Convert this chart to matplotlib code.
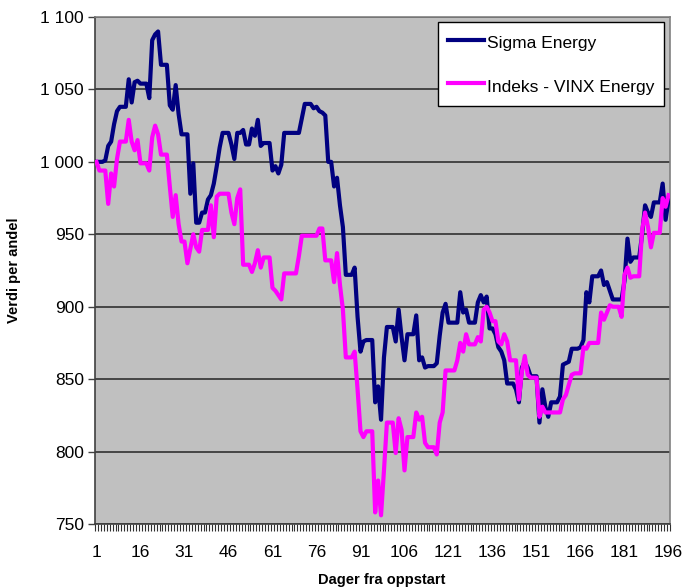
import numpy as np
import matplotlib
matplotlib.use("Agg")
import matplotlib.pyplot as plt
import matplotlib.ticker as mticker

# ── Data (value per share, day 1..196) ───────────────────────────────────────
sigma = [
    1000, 1000, 1000, 1001, 1011, 1014, 1026, 1035, 1038, 1038,
    1038, 1057, 1041, 1055, 1056, 1054, 1054, 1054, 1044, 1084,
    1088, 1090, 1067, 1067, 1067, 1039, 1036, 1053, 1033, 1019,
    1019, 1019, 978, 999, 958, 958, 965, 965, 974, 977,
    985, 997, 1010, 1020, 1020, 1020, 1012, 1002, 1020, 1020,
    1022, 1012, 1012, 1023, 1018, 1029, 1011, 1013, 1013, 1013,
    994, 997, 992, 998, 1020, 1020, 1020, 1020, 1020, 1020,
    1030, 1040, 1040, 1040, 1037, 1038, 1035, 1034, 1032, 1000,
    1000, 983, 989, 970, 955, 922, 922, 922, 927, 893,
    869, 876, 877, 877, 877, 834, 845, 822, 865, 886,
    886, 886, 876, 898, 879, 863, 881, 881, 881, 894,
    863, 865, 858, 859, 859, 859, 861, 880, 896, 902,
    889, 889, 889, 889, 910, 896, 898, 889, 889, 889,
    903, 908, 903, 907, 885, 885, 881, 872, 869, 863,
    847, 847, 847, 843, 834, 858, 862, 858, 852, 852,
    852, 820, 843, 831, 824, 834, 834, 834, 838, 860,
    861, 862, 871, 871, 871, 872, 877, 910, 903, 921,
    921, 921, 925, 915, 917, 911, 905, 905, 905, 905,
    918, 947, 931, 934, 934, 934, 950, 970, 965, 962,
    972, 972, 972, 985, 960, 974,
]
vinx = [
    1000, 994, 994, 994, 971, 992, 983, 1002, 1014, 1014,
    1014, 1029, 1014, 1008, 1015, 999, 999, 999, 994, 1017,
    1025, 1019, 1005, 1005, 1005, 983, 962, 977, 957, 945,
    945, 930, 940, 950, 941, 938, 953, 953, 953, 970,
    948, 976, 978, 978, 978, 978, 965, 957, 975, 981,
    929, 929, 929, 924, 930, 939, 927, 934, 934, 934,
    913, 911, 908, 905, 923, 923, 923, 923, 923, 935,
    949, 949, 949, 949, 949, 949, 954, 954, 932, 932,
    932, 917, 937, 915, 898, 865, 865, 865, 869, 843,
    814, 810, 814, 814, 814, 758, 780, 756, 787, 820,
    820, 820, 799, 823, 815, 787, 810, 810, 810, 827,
    822, 824, 806, 803, 803, 803, 798, 820, 827, 856,
    856, 856, 856, 863, 875, 869, 881, 874, 874, 874,
    879, 876, 898, 900, 896, 890, 890, 876, 874, 881,
    876, 863, 863, 863, 836, 855, 866, 853, 851, 851,
    851, 824, 831, 827, 827, 827, 827, 827, 827, 836,
    839, 846, 853, 854, 854, 854, 872, 871, 875, 875,
    875, 875, 896, 891, 896, 901, 900, 900, 900, 893,
    922, 927, 920, 921, 921, 921, 953, 965, 955, 941,
    951, 951, 951, 975, 969, 977,
]
days = np.arange(1, len(sigma) + 1)
x_labels = list(range(1, 197, 15))
y_ticks = list(range(750, 1101, 50))

plt.rcParams["font.family"] = ["Liberation Sans", "DejaVu Sans"]

W, H = 684, 587
fig = plt.figure(figsize=(W / 100, H / 100), dpi=100)
ax = fig.add_axes([95 / W, 1 - 524 / H, 575 / W, 507 / H])
ax.set_facecolor("#C0C0C0")

ax.plot(days, sigma, color="#000080", lw=3.0, label="Sigma Energy", zorder=3)
ax.plot(days, vinx, color="#FF00FF", lw=3.0, label="Indeks - VINX Energy", zorder=3)

ax.set_xlim(0.5, len(sigma) + 0.5)
ax.set_ylim(750, 1100)

# y axis
ax.set_yticks(y_ticks)
ax.yaxis.set_major_formatter(mticker.FuncFormatter(lambda v, _: f"{int(v):,}".replace(",", " ")))
ax.tick_params(axis="y", direction="out", length=5, width=1, color="#404040",
               labelsize=12.5, pad=3)
ax.yaxis.grid(True, color="#303030", lw=1.2)
ax.set_axisbelow(True)

# x axis: one tick per category, labels every 15th day
ax.set_xticks(x_labels)
ax.set_xticks(np.arange(0.5, len(sigma) + 1, 1), minor=True)
ax.tick_params(axis="x", which="major", length=0, labelsize=12.5, pad=15)
ax.tick_params(axis="x", which="minor", direction="out", length=5, width=0.8, color="#303030")

for side in ["top", "right"]:
    ax.spines[side].set_color("#808080")
    ax.spines[side].set_linewidth(1.2)
for side in ["left", "bottom"]:
    ax.spines[side].set_color("#404040")
    ax.spines[side].set_linewidth(1.2)

fig.text(14 / W, 1 - 270 / H, "Verdi per andel", rotation=90, ha="center", va="center",
         fontsize=10.5, fontweight="bold")
fig.text(382 / W, 1 - 580 / H, "Dager fra oppstart", ha="center", va="center",
         fontsize=10.5, fontweight="bold")

leg = ax.legend(loc="upper left", bbox_to_anchor=(438 / W, 1 - 22 / H),
                bbox_transform=fig.transFigure, borderaxespad=0, fancybox=False,
                framealpha=1, edgecolor="black", fontsize=12.5, handlelength=2.1,
                handleheight=1.5, handletextpad=0.15, labelspacing=1.3, borderpad=0.55)
leg.get_frame().set_linewidth(1.0)

fig.savefig("out.png", dpi=100)
